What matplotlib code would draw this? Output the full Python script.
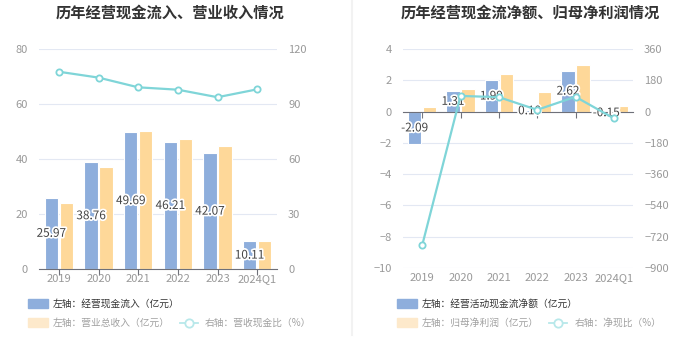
import matplotlib
matplotlib.use("Agg")
from matplotlib import pyplot as plt
from matplotlib.patches import Rectangle
from matplotlib.lines import Line2D
import matplotlib.patheffects as pe
import numpy as np

plt.rcParams['font.family'] = ['Noto Sans CJK SC', 'DejaVu Sans']

years = ["2019", "2020", "2021", "2022", "2023", "2024Q1"]

# left chart
cash_in = [25.97, 38.76, 49.69, 46.21, 42.07, 10.11]
revenue = [24.1, 37.2, 50.1, 47.2, 44.8, 10.3]
cash_rev_ratio = [107.6, 104.4, 99.1, 97.8, 93.7, 98.0]

# right chart
cash_net = [-2.09, 1.31, 1.99, 0.10, 2.62, -0.15]
net_profit = [0.27, 1.42, 2.38, 1.25, 2.95, 0.38]
net_cash_ratio = [-770, 90, 83, 10, 85, -39]

BLUE = "#8eaedc"
ORANGE = "#fed899"
ORANGE_LIGHT = "#fde9cb"
TEAL = "#7fd5d8"
GRID = "#e3e8f3"
TICK = "#999999"

fig = plt.figure(figsize=(7, 3.6), dpi=100)
W, H = 700, 360


def panel(rect, bars_a, bars_b, line, lylim, lyticks, rylim, ryticks, cat_w, title, title_x):
    x0, y0, w, h = rect
    ax = fig.add_axes([x0 / W, 1 - (y0 + h) / H, w / W, h / H])
    x = np.arange(len(years))
    bw = 13.5 / cat_w
    off = 7.5 / cat_w
    ax.bar(x - off, bars_a, bw, color=BLUE, edgecolor="white", linewidth=0.8, zorder=2)
    ax.bar(x + off, bars_b, bw, color=ORANGE, edgecolor="white", linewidth=0.8, zorder=2)
    ax.set_xlim(-0.5, len(years) - 0.5)
    ax.set_ylim(*lylim)
    ax.set_yticks(lyticks)
    ax.grid(axis="y", color=GRID, linewidth=0.8, zorder=0)
    for s in ["top", "left", "right"]:
        ax.spines[s].set_visible(False)
    ax.spines["bottom"].set_position(("data", 0))
    ax.spines["bottom"].set_color("#6e7079")
    ax.spines["bottom"].set_zorder(3)
    ax.set_xticks(x)
    ax.tick_params(axis="x", direction="out", length=4, color="#6e7079", labelbottom=False)
    ax.tick_params(axis="y", length=0, labelcolor=TICK, labelsize=8, pad=8)
    for i, lab in enumerate(years):
        ax.text(i, -0.025, lab, transform=ax.get_xaxis_transform(), ha="center", va="top",
                fontsize=8, color=TICK)
    for i, v in enumerate(bars_a):
        ax.text(i - off, v / 2, f"{v:.2f}", ha="center", va="center", fontsize=8.5,
                color="#444444", zorder=5,
                path_effects=[pe.withStroke(linewidth=2.5, foreground="white")])

    ax2 = ax.twinx()
    ax2.plot(x, line, color=TEAL, linewidth=1.6, marker="o", markersize=4.5,
             markerfacecolor="white", markeredgecolor=TEAL, markeredgewidth=1.3, zorder=4)
    ax2.set_ylim(*rylim)
    ax2.set_yticks(ryticks)
    for s in ax2.spines.values():
        s.set_visible(False)
    ax2.tick_params(axis="y", length=0, labelcolor=TICK, labelsize=8, pad=8)

    fig.text(title_x / W, 1 - 13 / H, title, ha="center", va="center", fontsize=11,
             fontweight="bold", color="#333333")
    return ax


panel((39, 49, 238, 220), cash_in, revenue, cash_rev_ratio,
      (0, 80), [0, 20, 40, 60, 80], (0, 120), [0, 30, 60, 90, 120], 39.6,
      "历年经营现金流入、营业收入情况", 170)
panel((403, 49, 230, 219), cash_net, net_profit, net_cash_ratio,
      (-10, 4), [-10, -8, -6, -4, -2, 0, 2, 4], (-900, 360),
      [-900, -720, -540, -360, -180, 0, 180, 360], 38.3,
      "历年经营现金流净额、归母净利润情况", 530)

# separator
fig.add_artist(Line2D([352 / W, 352 / W], [1, 1 - 335 / H], color="#f2f2f2", linewidth=1.5))


def legend(px, row1, row2, row3, line_x, text3_x):
    def fx(v):
        return v / W

    def fy(v):
        return 1 - v / H
    fig.add_artist(Rectangle((fx(px), fy(308)), 20 / W, 9 / H, color=BLUE, transform=fig.transFigure))
    fig.text(fx(px + 25), fy(303.5), row1, ha="left", va="center", fontsize=7, color="#333333")
    fig.add_artist(Rectangle((fx(px), fy(327)), 20 / W, 9 / H, color=ORANGE_LIGHT, transform=fig.transFigure))
    fig.text(fx(px + 25), fy(322.5), row2, ha="left", va="center", fontsize=7, color="#a0a0a0")
    fig.add_artist(Line2D([fx(line_x), fx(line_x + 18)], [fy(322.5), fy(322.5)], color="#b8e8ea",
                          linewidth=1.3))
    fig.add_artist(Line2D([fx(line_x + 9)], [fy(322.5)], marker="o", markersize=6,
                          markerfacecolor="white", markeredgecolor="#b8e8ea", markeredgewidth=1.3))
    fig.text(fx(text3_x), fy(322.5), row3, ha="left", va="center", fontsize=7, color="#a0a0a0")


legend(28, "左轴：经营现金流入（亿元）", "左轴：营业总收入（亿元）", "右轴：营收现金比（%）", 180, 205)
legend(397, "左轴：经营活动现金流净额（亿元）", "左轴：归母净利润（亿元）", "右轴：净现比（%）", 549, 575)

fig.savefig("out.png", dpi=100, facecolor="white")
